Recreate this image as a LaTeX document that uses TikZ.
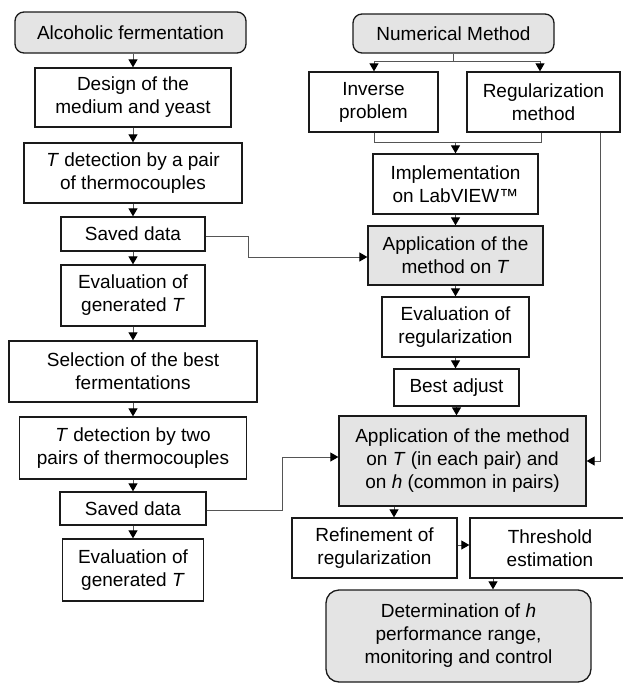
\documentclass[tikz,border=0pt]{standalone}
\usepackage{fontspec}
\setmainfont{Liberation Sans}
\usetikzlibrary{arrows.meta}
\definecolor{boxline}{HTML}{1A1A1A}
\definecolor{boxfill}{HTML}{E4E4E4}
\definecolor{lineclr}{HTML}{555555}
\begin{document}
\begin{tikzpicture}[x=1pt,y=-1pt,
  box/.style={draw=boxline,line width=1.3pt,fill=white,inner sep=0pt,align=center,
    font=\fontsize{19}{23}\selectfont},
  gbox/.style={box,fill=boxfill},
  rbox/.style={gbox,rounded corners=9pt},
  conn/.style={draw=lineclr,line width=1pt},
  arr/.style={conn,-{Triangle[length=8pt,width=9pt,color=black]}},
]
\useasboundingbox (0,0) rectangle (623,683);

% left column
\node[rbox,minimum width=231,minimum height=41] (af) at (130.5,32.5) {Alcoholic fermentation};
\node[box,minimum width=196,minimum height=59] (des) at (133,97.5) {Design of the\\medium and yeast};
\node[box,minimum width=218,minimum height=60] (td1) at (133,173) {\textit{T} detection by a pair\\of thermocouples};
\node[box,minimum width=144,minimum height=34] (sd1) at (133,234) {Saved data};
\node[box,minimum width=144,minimum height=61] (ev1) at (133,295.5) {Evaluation of\\generated \textit{T}};
\node[box,minimum width=248,minimum height=61] (sel) at (133,371.5) {Selection of the best\\fermentations};
\node[box,minimum width=227,minimum height=62] (td2) at (133,448) {\textit{T} detection by two\\pairs of thermocouples};
\node[box,minimum width=146,minimum height=33] (sd2) at (133,508.5) {Saved data};
\node[box,minimum width=141,minimum height=62] (ev2) at (133,570) {Evaluation of\\generated \textit{T}};

% right column
\node[rbox,minimum width=201,minimum height=39] (nm) at (453.5,33.5) {Numerical Method};
\node[box,minimum width=129,minimum height=60] (inv) at (373.5,102) {Inverse\\problem};
\node[box,minimum width=153,minimum height=60] (reg) at (543.5,102) {Regularization\\method};
\node[box,minimum width=165,minimum height=60] (imp) at (455.5,184) {Implementation\\on LabVIEW™};
\node[gbox,minimum width=175,minimum height=59] (app1) at (455.5,255.5) {Application of the\\method on \textit{T}};
\node[box,minimum width=147,minimum height=60] (evr) at (455.5,327) {Evaluation of\\regularization};
\node[box,minimum width=125,minimum height=37] (best) at (456.5,387.5) {Best adjust};
\node[gbox,minimum width=247,minimum height=90] (app2) at (462.5,461) {Application of the method\\on \textit{T} (in each pair) and\\on \textit{h} (common in pairs)};
\node[box,minimum width=165,minimum height=60] (ref) at (374.5,548) {Refinement of\\regularization};
\node[box,minimum width=160,minimum height=60] (thr) at (550,548) {Threshold\\estimation};
\node[rbox,rounded corners=13pt,minimum width=265,minimum height=92] (det) at (458.5,636) {Determination of \textit{h}\\performance range,\\monitoring and control};

% left arrows
\draw[arr] (des.north |- af.south) -- (des.north);
\draw[arr] (des) -- (td1);
\draw[arr] (td1) -- (sd1);
\draw[arr] (sd1) -- (ev1);
\draw[arr] (ev1) -- (sel);
\draw[arr] (sel) -- (td2);
\draw[arr] (td2) -- (sd2);
\draw[arr] (sd2) -- (ev2);

% right arrows
\coordinate (j1) at (453,61);
\coordinate (j1L) at (374,61);
\coordinate (j1R) at (540,61);
\draw[conn] (nm.south -| j1) -- (j1);
\draw[conn] (j1L) -- (j1R);
\draw[arr] (j1L) -- (j1L |- inv.north);
\draw[arr] (j1R) -- (j1R |- reg.north);

\coordinate (j2) at (455.5,142);
\coordinate (j2L) at (374,142);
\coordinate (j2R) at (541,142);
\draw[conn] (j2L |- inv.south) -- (j2L) -- (j2R) -- (j2R |- reg.south);
\draw[arr] (j2) -- (j2 |- imp.north);

\draw[arr] (imp) -- (app1);
\draw[arr] (app1) -- (evr);
\draw[arr] (evr) -- (evr.south |- best.north);
\draw[arr] (best.south) -- (best.south |- app2.north);

\coordinate (k1) at (394,0);
\draw[arr] (app2.south -| k1) -- (ref.north -| k1);
\coordinate (k2) at (0,545);
\draw[arr] (ref.east |- k2) -- (thr.west |- k2);
\coordinate (k3) at (493,0);
\draw[arr] (thr.south -| k3) -- (det.north -| k3);

\coordinate (r1) at (600,0);
\draw[arr] (reg.south -| r1) |- (app2.east);

% cross connectors
\coordinate (s1) at (248,0);
\coordinate (a1y) at (0,257);
\draw[arr] (sd1.east |- 0,236) -- (s1 |- 0,236) -- (s1 |- a1y) -- (app1.west |- a1y);
\coordinate (s2) at (282,0);
\coordinate (a2y) at (0,457);
\draw[arr] (sd2.east |- 0,510) -- (s2 |- 0,510) -- (s2 |- a2y) -- (app2.west |- a2y);
\end{tikzpicture}
\end{document}
